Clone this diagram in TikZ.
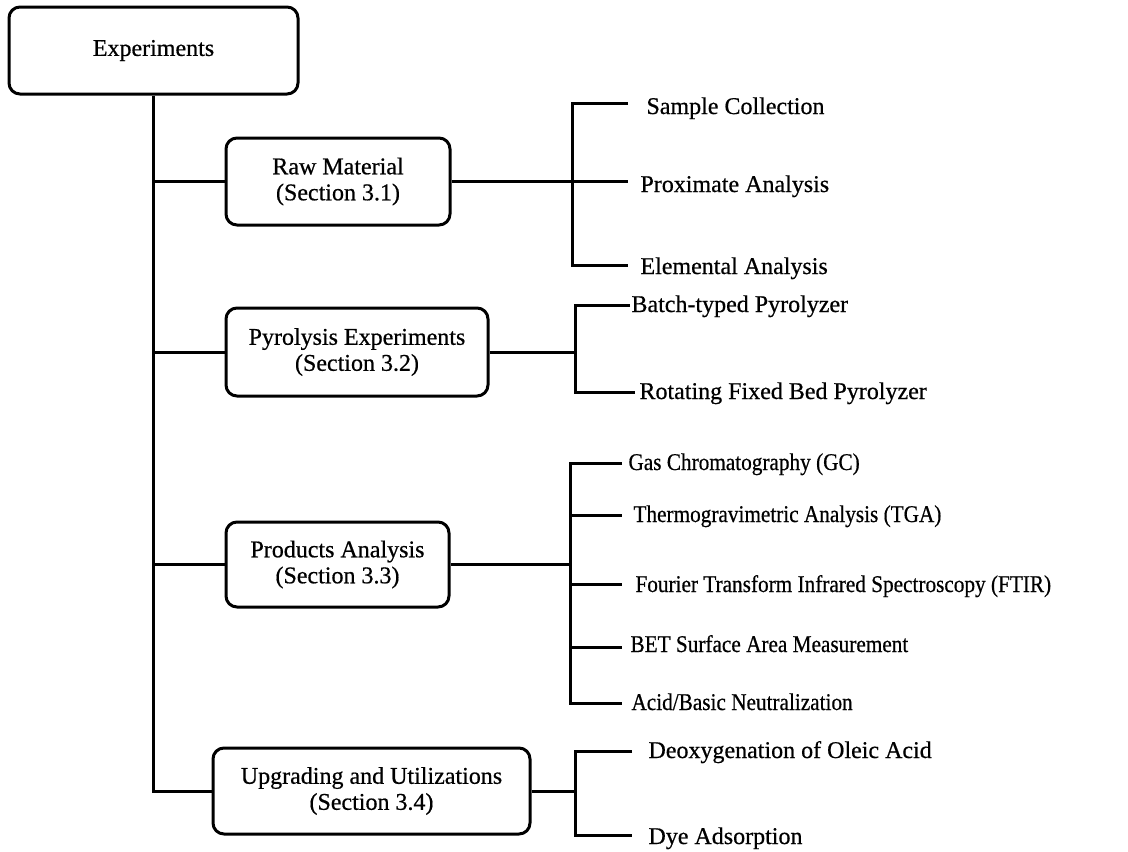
\documentclass[tikz,border=0pt]{standalone}
\usepackage{fontspec}
\setmainfont{Liberation Serif}[FakeBold=0.6]
\usepackage{graphicx}
\begin{document}
\begin{tikzpicture}[x=1pt,y=-1pt,line width=3pt,
  txt/.style={font=\fontsize{24}{26}\selectfont},
  box/.style={txt,draw,rounded corners=11pt,line width=3pt,align=center,inner sep=0pt},
  leaf/.style={txt,anchor=west,inner sep=0pt,text height=17pt,text depth=5pt}]
\useasboundingbox (0,0) rectangle (1128,852);
% boxes
\node[box,minimum width=289pt,minimum height=87pt] (exp) at (153.5,50.5) {Experiments};
\node[box,minimum width=224pt,minimum height=87pt] (raw) at (338,181.5) {Raw Material\\(Section 3.1)};
\node[box,minimum width=262pt,minimum height=88pt] (pyr) at (357,352) {Pyrolysis Experiments\\(Section 3.2)};
\node[box,minimum width=223pt,minimum height=85pt] (prod) at (337.5,564.5) {Products Analysis\\(Section 3.3)};
\node[box,minimum width=317pt,minimum height=86pt] (upg) at (371.5,791) {Upgrading and Utilizations\\(Section 3.4)};
% main trunk
\draw (exp.south) |- (upg.west);
\draw (raw.west) -- (raw.west -| exp.south);
\draw (pyr.west) -- (pyr.west -| exp.south);
\draw (prod.west) -- (prod.west -| exp.south);
% raw material group
\coordinate (jr) at (572,181.5);
\coordinate (r1) at (628,103);
\coordinate (r2) at (628,181.5);
\coordinate (r3) at (628,265);
\draw (raw.east) -- (jr);
\draw (r1) -- (r1 -| jr) -- (r3 -| jr) -- (r3);
\draw (jr) -- (r2);
\node[leaf] (l1) at (645,108) {Sample Collection};
\node[leaf] (l2) at (639,186) {Proximate Analysis};
\node[leaf] (l3) at (639,268) {Elemental Analysis};
% pyrolysis group
\coordinate (jp) at (575,352);
\coordinate (p1) at (630,305);
\coordinate (p2) at (635,392);
\draw (pyr.east) -- (jp);
\draw (p1) -- (p1 -| jp) -- (p2 -| jp) -- (p2);
\node[leaf] (l4) at (630,306) {Batch-typed Pyrolyzer};
\node[leaf] (l5) at (638,393) {Rotating Fixed Bed Pyrolyzer};
% products group
\coordinate (ja) at (570,564.5);
\coordinate (a1) at (622,463);
\coordinate (a2) at (622,515);
\coordinate (a3) at (622,584);
\coordinate (a4) at (622,647);
\coordinate (a5) at (622,703);
\draw (prod.east) -- (ja);
\draw (a1) -- (a1 -| ja) -- (a5 -| ja) -- (a5);
\draw (a2 -| ja) -- (a2);
\draw (a3 -| ja) -- (a3);
\draw (a4 -| ja) -- (a4);
\node[leaf] (l6) at (627,464) {\scalebox{0.885}[1]{Gas Chromatography (GC)}};
\node[leaf] (l7) at (632,516) {\scalebox{0.885}[1]{Thermogravimetric Analysis (TGA)}};
\node[leaf] (l8) at (634,586) {\scalebox{0.885}[1]{Fourier Transform Infrared Spectroscopy (FTIR)}};
\node[leaf] (l9) at (629,646) {\scalebox{0.885}[1]{BET Surface Area Measurement}};
\node[leaf] (l10) at (630,704) {\scalebox{0.885}[1]{Acid/Basic Neutralization}};
% upgrading group
\coordinate (ju) at (575,792);
\coordinate (u1) at (632,751);
\coordinate (u2) at (632,835);
\draw (upg.east) -- (upg.east -| ju);
\draw (u1) -- (u1 -| ju) -- (u2 -| ju) -- (u2);
\node[leaf] (l11) at (647,752) {Deoxygenation of Oleic Acid};
\node[leaf] (l12) at (647,838) {Dye Adsorption};
\end{tikzpicture}
\end{document}
